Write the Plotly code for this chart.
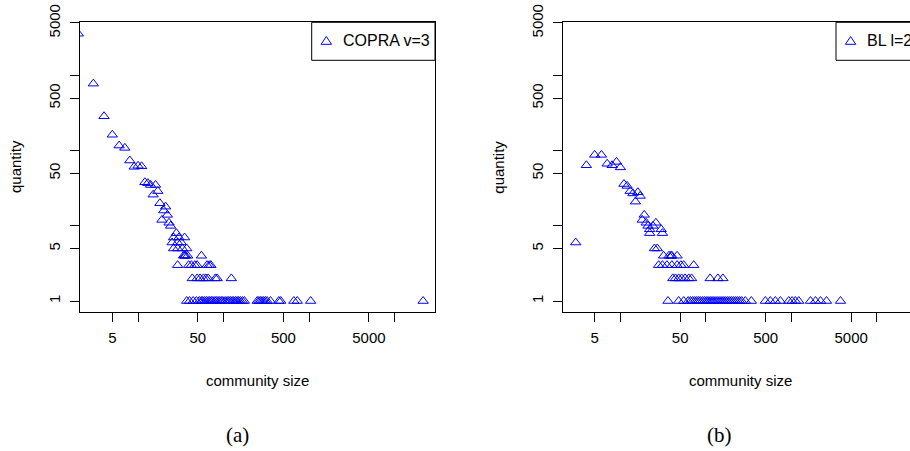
import plotly.graph_objects as go

# ---------------- data ----------------
# Panel (a): COPRA v=3  -- community size vs. number of communities
copra_size = [2, 3, 4, 5, 6, 7, 8, 9, 10, 11, 12, 13, 14, 15, 16, 17, 18, 19, 20, 21, 22, 23, 24, 28,
              26, 30, 35,
              25, 29, 32,
              26, 29, 33, 37,
              34, 35, 36, 38, 55,
              29, 39, 42, 46, 49, 64, 68, 71,
              43, 49, 53, 58, 62, 66, 80, 84, 123,
              37, 40, 44, 48, 52, 55, 57, 60, 63, 66, 69, 72, 75, 79, 82, 86, 90, 94, 98, 104,
              110, 115, 120, 126, 131, 138, 144, 150, 157, 166, 175, 247, 258, 269, 281, 294,
              308, 323, 353, 442, 465, 662, 726, 1040, 21500]
copra_count = [3600, 780, 287, 163, 117, 109, 74, 61, 63, 62, 38, 37, 35, 26, 35, 29, 20, 12, 16, 18, 14, 11, 10, 8,
               7, 7, 7,
               6, 6, 6,
               5, 5, 5, 5,
               4, 4, 4, 4, 4,
               3, 3, 3, 3, 3, 3, 3, 3,
               2, 2, 2, 2, 2, 2, 2, 2, 2,
               1, 1, 1, 1, 1, 1, 1, 1, 1, 1, 1, 1, 1, 1, 1, 1, 1, 1, 1, 1,
               1, 1, 1, 1, 1, 1, 1, 1, 1, 1, 1, 1, 1, 1, 1, 1,
               1, 1, 1, 1, 1, 1, 1, 1, 1]

# Panel (b): BL l=2
bl_size = [3, 4, 5, 6, 7, 8, 9, 10, 11, 12, 13, 14, 15, 16, 17, 18, 19, 20, 21, 22, 22, 24, 26, 30, 31,
           25, 27,
           32, 37, 39, 40, 46,
           28, 31, 35, 40, 46, 51, 55, 72,
           41, 44, 48, 52, 57, 63, 68, 112, 138, 158,
           36, 48, 55, 62, 66, 70, 74, 78, 82, 86, 91, 96, 101, 106, 112, 118, 124, 131, 138, 146,
           154, 162, 171, 180, 190, 200, 211, 223, 235, 248, 262, 289, 340, 496, 567, 649, 743,
           930, 1019, 1114, 1219, 1671, 1914, 2191, 2573, 3751]
bl_count = [6, 64, 88, 88, 67, 64, 71, 60, 36, 34, 29, 27, 21, 28, 25, 12, 14, 11, 10, 9, 8, 10, 11, 9, 8,
            5, 5,
            4, 4, 4, 4, 4,
            3, 3, 3, 3, 3, 3, 3, 3,
            2, 2, 2, 2, 2, 2, 2, 2, 2, 2,
            1, 1, 1, 1, 1, 1, 1, 1, 1, 1, 1, 1, 1, 1, 1, 1, 1, 1, 1, 1,
            1, 1, 1, 1, 1, 1, 1, 1, 1, 1, 1, 1, 1, 1, 1, 1, 1,
            1, 1, 1, 1, 1, 1, 1, 1, 1]

# axis ticks
x_tickvals = [5, 10, 50, 100, 500, 1000, 5000, 10000]
x_ticktext = ["5", "", "50", "", "500", "", "5000", ""]
y_tickvals = [1, 5, 10, 50, 100, 500, 1000, 5000]
y_ticktext = ["1", "5", "", "50", "", "500", "", "5000"]

series_names = ["COPRA v=3", "BL l=2"]
panel_captions = ["(a)", "(b)"]
x_title = "community size"
y_title = "quantity"

# ---------------- layout / style ----------------
W, H = 910, 451
BLUE = "#0000FF"
SANS = "Liberation Sans, Arial, sans-serif"
SERIF = "Liberation Serif, Times New Roman, serif"
FS = 15


def fx(p):
    return p / W


def fy(p):
    return 1 - p / H


plot_top, plot_bottom = 22.3, 312.0
panels = [
    dict(left=80.0, right=435.0, xrange=[0.321, 4.471], mirror_y=True),
    dict(left=562.7, right=910.0, xrange=[0.325, 4.387], mirror_y=False),
]

fig = go.Figure()
for i, (xs, ys) in enumerate([(copra_size, copra_count), (bl_size, bl_count)]):
    sfx = "" if i == 0 else str(i + 1)
    fig.add_trace(go.Scatter(
        x=xs, y=ys, mode="markers", name=series_names[i],
        xaxis="x" + sfx, yaxis="y" + sfx, showlegend=False,
        marker=dict(symbol="triangle-up-open", size=9, color=BLUE,
                    line=dict(color=BLUE, width=1)),
        cliponaxis=True,
    ))

axis_common = dict(type="log", showgrid=False, zeroline=False, showline=True,
                   linecolor="black", linewidth=1, ticks="outside", ticklen=9,
                   tickcolor="black", tickwidth=1,
                   tickfont=dict(family=SANS, size=FS, color="black"),
                   automargin=False)

layout = dict(width=W, height=H, margin=dict(l=0, r=0, t=0, b=0, autoexpand=False),
              paper_bgcolor="white", plot_bgcolor="white", template="none",
              showlegend=False)

shapes = []
annotations = []
for i, p in enumerate(panels):
    sfx = "" if i == 0 else str(i + 1)
    layout["xaxis" + sfx] = dict(axis_common, domain=[fx(p["left"]), fx(p["right"])],
                                 range=p["xrange"], anchor="y" + sfx, mirror=True,
                                 ticklabelstandoff=3,
                                 tickvals=x_tickvals, ticktext=x_ticktext)
    layout["yaxis" + sfx] = dict(axis_common, domain=[fy(plot_bottom), fy(plot_top)],
                                 range=[-0.146, 3.708], anchor="x" + sfx,
                                 mirror=p["mirror_y"], tickangle=-90,
                                 ticklabelstandoff=4,
                                 tickvals=y_tickvals, ticktext=y_ticktext)
    cx = (p["left"] + 355.0 / 2)
    annotations.append(dict(text=x_title, x=fx(cx), y=fy(380), xref="paper", yref="paper",
                            showarrow=False, xanchor="center", yanchor="middle",
                            font=dict(family=SANS, size=FS, color="black")))
    annotations.append(dict(text=y_title, x=fx(p["left"] - 65), y=fy(167), xref="paper",
                            yref="paper", showarrow=False, textangle=-90,
                            xanchor="center", yanchor="middle",
                            font=dict(family=SANS, size=FS, color="black")))
    annotations.append(dict(text=panel_captions[i], x=fx(cx - 20.5), y=fy(435), xref="paper",
                            yref="paper", showarrow=False, xanchor="center", yanchor="middle",
                            font=dict(family=SERIF, size=21, color="black")))
    # legend box
    lx0 = p["left"] + 231.7 if i == 0 else 836.0
    lx1 = p["right"] if i == 0 else 1000.0
    shapes.append(dict(type="rect", xref="paper", yref="paper",
                       x0=fx(lx0), x1=fx(lx1), y0=fy(60.3), y1=fy(plot_top),
                       line=dict(color="black", width=1), fillcolor="white", layer="above"))
    tx = lx0 + 14.6
    ty = 40.7
    path = "M {:.5f} {:.5f} L {:.5f} {:.5f} L {:.5f} {:.5f} Z".format(
        fx(tx - 5.2), fy(ty + 3.6), fx(tx + 5.2), fy(ty + 3.6), fx(tx), fy(ty - 4.2))
    shapes.append(dict(type="path", xref="paper", yref="paper", path=path,
                       line=dict(color=BLUE, width=1), layer="above"))
    annotations.append(dict(text=series_names[i], x=fx(lx0 + 29.0), y=fy(ty), xref="paper",
                            yref="paper", showarrow=False, xanchor="left", yanchor="middle",
                            font=dict(family=SANS, size=16, color="black")))

layout["shapes"] = shapes
layout["annotations"] = annotations
fig.update_layout(**layout)

fig.write_html("out.html")
